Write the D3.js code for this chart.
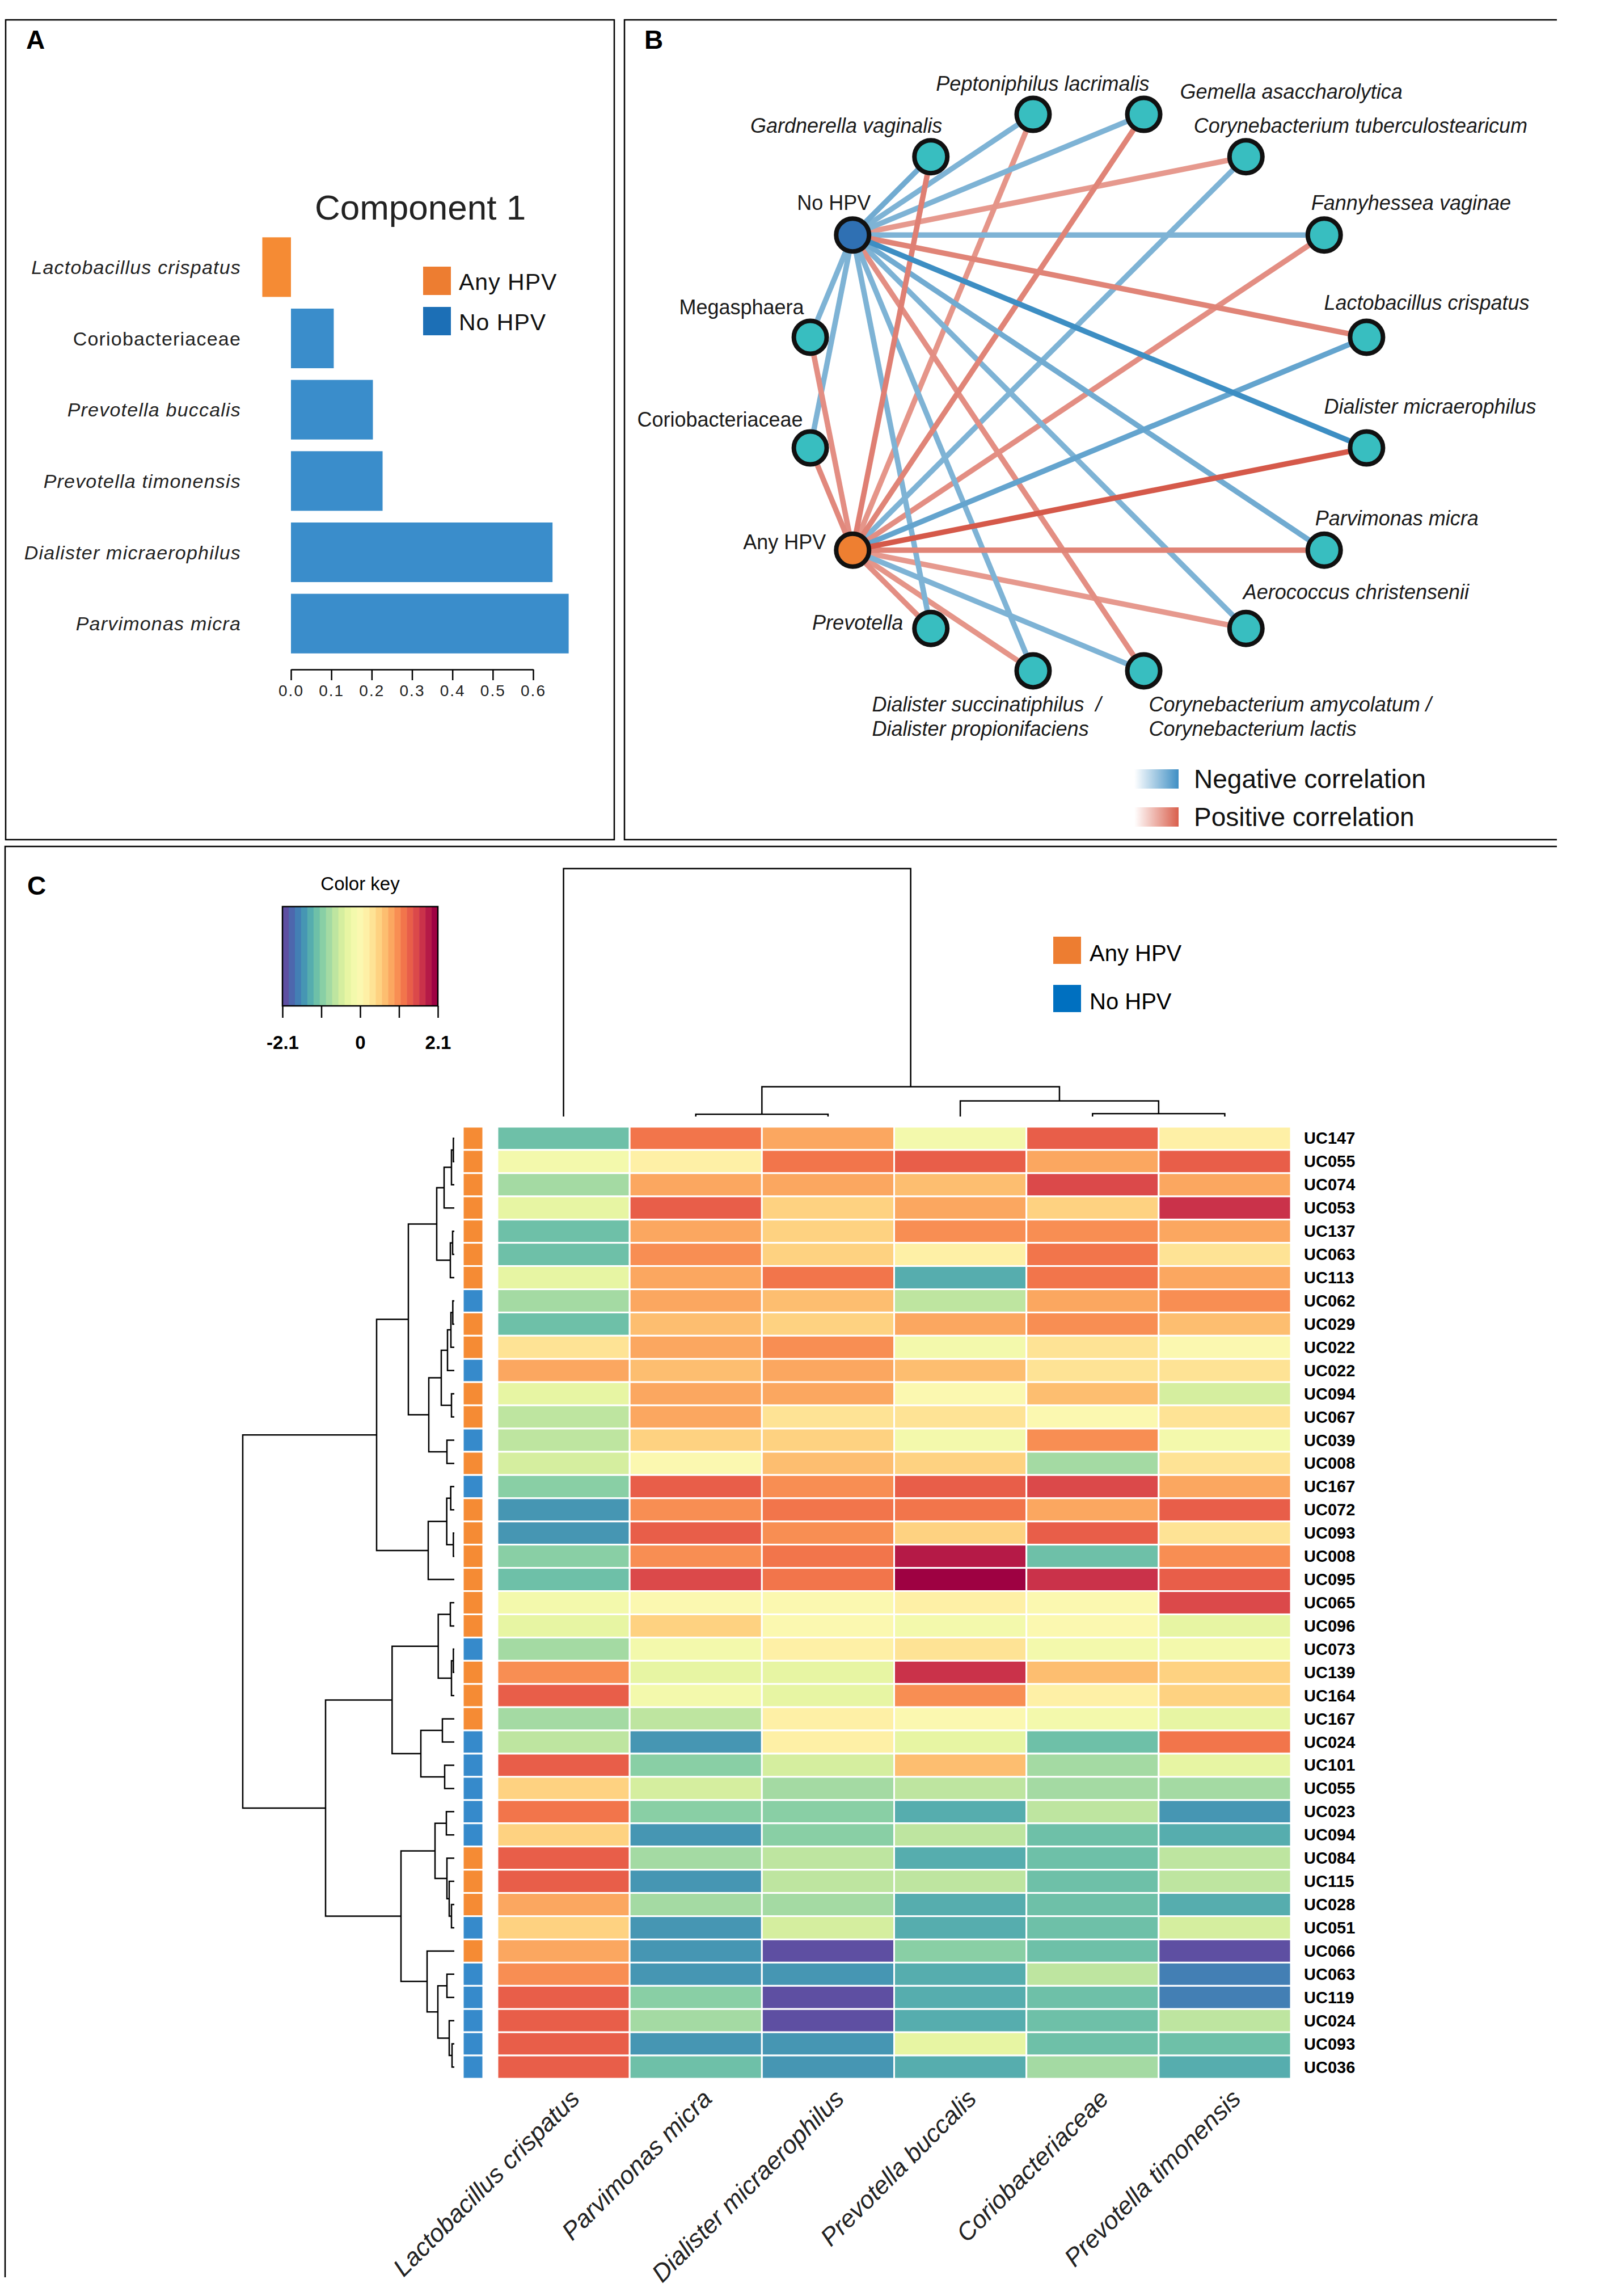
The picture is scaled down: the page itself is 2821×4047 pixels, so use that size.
<!DOCTYPE html>
<html>
<head>
<meta charset="utf-8">
<script src="https://cdn.jsdelivr.net/npm/d3@7"></script>
<style>
  body { margin: 0; background: #fff; }
  text { font-family: "Liberation Sans", Arial, sans-serif; }
</style>
</head>
<body>
<script>
// ---------- panel A : PLS-DA loadings, component 1 ----------
const plsSpecies = ["Lactobacillus crispatus", "Coriobacteriaceae", "Prevotella buccalis",
  "Prevotella timonensis", "Dialister micraerophilus", "Parvimonas micra"];
const plsLoading = [-0.071, 0.106, 0.203, 0.227, 0.648, 0.688];
const plsGroup = ["Any HPV", "No HPV", "No HPV", "No HPV", "No HPV", "No HPV"];
const plsTicks = [0, 0.1, 0.2, 0.3, 0.4, 0.5, 0.6];

// ---------- panel B : correlation network ----------
// species in clockwise order around the circle, hubs inserted below
const netSpecies = ["Gemella asaccharolytica", "Corynebacterium tuberculostearicum", "Fannyhessea vaginae",
  "Lactobacillus crispatus", "Dialister micraerophilus", "Parvimonas micra", "Aerococcus christensenii",
  "Corynebacterium amycolatum /\nCorynebacterium lactis", "Dialister succinatiphilus  /\nDialister propionifaciens",
  "Prevotella", "Coriobacteriaceae", "Megasphaera", "Gardnerella vaginalis", "Peptoniphilus lacrimalis"];
const corrNoHpv  = [-0.45, 0.40, -0.45, 0.50, -0.70, -0.50, -0.45, 0.45, -0.45, -0.45, -0.45, -0.45, -0.50, -0.45];
const corrAnyHpv = [0.50, -0.45, 0.45, -0.55, 0.70, 0.50, 0.40, -0.45, 0.42, 0.45, 0.48, 0.45, 0.52, 0.42];
const netOrder = ["Gemella asaccharolytica", "Corynebacterium tuberculostearicum", "Fannyhessea vaginae",
  "Lactobacillus crispatus", "Dialister micraerophilus", "Parvimonas micra", "Aerococcus christensenii",
  "Corynebacterium amycolatum /\nCorynebacterium lactis", "Dialister succinatiphilus  /\nDialister propionifaciens",
  "Prevotella", "Any HPV", "Coriobacteriaceae", "Megasphaera", "No HPV", "Gardnerella vaginalis",
  "Peptoniphilus lacrimalis"];

// ---------- panel C : heatmap ----------
const hmTaxa = ["Lactobacillus crispatus", "Parvimonas micra", "Dialister micraerophilus",
  "Prevotella buccalis", "Coriobacteriaceae", "Prevotella timonensis"];
const hmSamples = ["UC147", "UC055", "UC074", "UC053", "UC137", "UC063", "UC113", "UC062", "UC029", "UC022",
  "UC022", "UC094", "UC067", "UC039", "UC008", "UC167", "UC072", "UC093", "UC008", "UC095", "UC065",
  "UC096", "UC073", "UC139", "UC164", "UC167", "UC024", "UC101", "UC055", "UC023", "UC094", "UC084",
  "UC115", "UC028", "UC051", "UC066", "UC063", "UC119", "UC024", "UC093", "UC036"];
const hmGroup = ["A", "A", "A", "A", "A", "A", "A", "N", "A", "A", "N", "A", "A", "N", "A", "N", "A", "A", "A",
  "A", "A", "A", "N", "A", "A", "A", "N", "N", "N", "N", "N", "A", "A", "A", "N", "A", "N", "N", "N", "N", "N"];
const hmValues = [
  [-1.2, 1.2, 0.8, -0.2, 1.3, 0.2],
  [-0.2, 0.2, 1.2, 1.3, 0.8, 1.3],
  [-0.8, 0.8, 0.8, 0.7, 1.5, 0.8],
  [-0.3, 1.3, 0.5, 0.8, 0.5, 1.7],
  [-1.2, 0.8, 0.5, 1.0, 1.0, 0.8],
  [-1.2, 1.0, 0.5, 0.2, 1.2, 0.3],
  [-0.3, 0.8, 1.2, -1.3, 1.2, 0.8],
  [-0.8, 0.8, 0.7, -0.7, 0.8, 1.0],
  [-1.2, 0.7, 0.5, 0.8, 1.0, 0.7],
  [0.3, 0.8, 1.0, -0.2, 0.3, 0.0],
  [0.8, 0.7, 0.8, 0.7, 0.3, 0.3],
  [-0.3, 0.8, 0.8, 0.0, 0.7, -0.5],
  [-0.7, 0.8, 0.3, 0.3, 0.0, 0.3],
  [-0.7, 0.5, 0.5, -0.2, 1.0, -0.2],
  [-0.5, 0.0, 0.7, 0.5, -0.8, 0.3],
  [-1.0, 1.3, 1.0, 1.3, 1.5, 0.8],
  [-1.5, 1.0, 1.2, 1.2, 0.8, 1.3],
  [-1.5, 1.3, 1.0, 0.5, 1.3, 0.3],
  [-1.0, 1.0, 1.2, 1.9, -1.2, 1.0],
  [-1.2, 1.5, 1.2, 2.0, 1.7, 1.3],
  [-0.2, 0.0, 0.0, 0.2, 0.0, 1.5],
  [-0.3, 0.5, 0.0, -0.2, 0.0, -0.3],
  [-0.8, -0.2, 0.2, 0.3, -0.2, -0.2],
  [1.0, -0.3, -0.3, 1.7, 0.7, 0.5],
  [1.3, -0.2, -0.3, 1.0, 0.2, 0.5],
  [-0.8, -0.7, 0.2, 0.0, -0.2, -0.3],
  [-0.7, -1.5, 0.2, -0.3, -1.2, 1.2],
  [1.3, -1.0, -0.5, 0.7, -0.8, -0.3],
  [0.5, -0.5, -0.8, -0.7, -0.8, -0.8],
  [1.2, -1.0, -1.0, -1.3, -0.7, -1.5],
  [0.5, -1.5, -1.0, -0.7, -1.2, -1.3],
  [1.3, -0.8, -0.7, -1.3, -1.2, -0.7],
  [1.3, -1.5, -0.7, -0.7, -1.2, -0.7],
  [0.8, -0.8, -0.8, -1.3, -1.2, -1.3],
  [0.5, -1.5, -0.5, -1.3, -1.2, -0.5],
  [0.8, -1.5, -2.0, -1.0, -1.2, -2.0],
  [1.0, -1.5, -1.5, -1.3, -0.7, -1.7],
  [1.3, -1.0, -2.0, -1.3, -1.2, -1.7],
  [1.3, -0.8, -2.0, -1.3, -1.2, -0.7],
  [1.3, -1.5, -1.5, -0.3, -1.2, -1.2],
  [1.3, -1.2, -1.5, -1.3, -0.8, -1.3]
];
// dendrograms as [mergeHeight, left, right]; leaves are row / column indices
const rowTree = [11.19,
  [4.11,
    [2.43,
      [0.93, [0.54, [0.15, [0.05, 0, 1], 2], 3], [0.21, [0.09, 4, 5], 6]],
      [1.35, [0.69, [0.36, [0.18, [0.08, 7, 8], 9], 10], [0.15, 11, 12]], [0.39, 13, 14]]],
    [1.38, [0.40, [0.19, 15, 16], [0.05, 17, 18]], 19]],
  [6.81,
    [3.29,
      [0.85, [0.21, 20, 21], [0.15, [0.05, 22, 23], 24]],
      [1.77, [0.63, 25, 26], [0.51, 27, 28]]],
    [2.82,
      [1.02, [0.42, 29, 30], [0.39, 31, [0.27, 32, [0.15, 33, 34]]]],
      [1.44, 35, [0.87, [0.39, 36, 37], [0.27, 38, [0.12, 39, 40]]]]]]];
const colTree = [13.13, 0, [1.58, [0.12, 1, 2], [0.83, 3, [0.15, 4, 5]]]];
const keyTicks = [-2.1, -1.05, 0, 1.05, 2.1];

// ---------- drawing ----------
const W = 2821, H = 4047;
const svg = d3.select("body").append("svg")
  .attr("width", W).attr("height", H)
  .style("display", "block");
svg.append("rect").attr("width", W).attr("height", H).attr("fill", "#fff");

const orange = "#ED7D31", blueLeg = "#1C6FB6";
const barOrange = "#F58B34", barBlue = "#3A8DCB";
const uprightNames = new Set(["Coriobacteriaceae", "Megasphaera", "No HPV", "Any HPV"]);

// panel frames
const frame = svg.append("g").attr("fill", "none").attr("stroke", "#000").attr("stroke-width", 2.5);
frame.append("rect").attr("x", 10).attr("y", 35).attr("width", 1073).attr("height", 1445);
frame.append("path").attr("d", "M2745,35 H1101 V1480 H2745");
frame.append("path").attr("d", "M2745,1492 H9 V4014");

svg.selectAll("text.panel").data([["A", 46, 86], ["B", 1136, 86], ["C", 48, 1577]])
  .join("text").attr("class", "panel")
  .attr("x", d => d[1]).attr("y", d => d[2])
  .attr("font-size", 46).attr("font-weight", "bold").text(d => d[0]);

// ===== Panel A =====
const gA = svg.append("g");
const xA = d3.scaleLinear().domain([0, 0.6]).range([513, 940]);
const yA = d3.scaleBand().domain(plsSpecies).range([408, 1162])
  .paddingInner(0.164).paddingOuter(0.082);

gA.append("text").attr("x", 741).attr("y", 387).attr("text-anchor", "middle")
  .attr("font-size", 62).attr("fill", "#222").text("Component 1");

gA.selectAll("rect.bar").data(plsSpecies).join("rect").attr("class", "bar")
  .attr("x", (d, i) => xA(Math.min(0, plsLoading[i])))
  .attr("width", (d, i) => Math.abs(xA(plsLoading[i]) - xA(0)))
  .attr("y", d => yA(d)).attr("height", yA.bandwidth())
  .attr("fill", (d, i) => plsGroup[i] === "Any HPV" ? barOrange : barBlue);

gA.selectAll("text.lab").data(plsSpecies).join("text").attr("class", "lab")
  .attr("x", 425).attr("y", d => yA(d) + yA.bandwidth() / 2 + 12)
  .attr("text-anchor", "end").attr("font-size", 34).attr("letter-spacing", 1.2)
  .attr("fill", "#222")
  .attr("font-style", d => uprightNames.has(d) ? "normal" : "italic")
  .text(d => d);

const axA = gA.append("g").attr("transform", "translate(0,1180)")
  .call(d3.axisBottom(xA).tickValues(plsTicks).tickFormat(d3.format(".1f"))
    .tickSize(19).tickPadding(8).tickSizeOuter(0));
axA.select(".domain").attr("stroke-width", 2.5);
axA.selectAll(".tick line").attr("stroke-width", 2.5);
axA.selectAll("text").attr("font-size", 28).attr("letter-spacing", 2).attr("fill", "#222")
  .attr("font-family", "Liberation Sans, Arial, sans-serif");

const legA = gA.selectAll("g.leg").data(["Any HPV", "No HPV"]).join("g").attr("class", "leg")
  .attr("transform", (d, i) => `translate(746,${470 + i * 71})`);
legA.append("rect").attr("width", 49).attr("height", 50)
  .attr("fill", d => d === "Any HPV" ? orange : blueLeg);
legA.append("text").attr("x", 63).attr("y", 41).attr("font-size", 41)
  .attr("letter-spacing", 1).attr("fill", "#111").text(d => d);

// ===== Panel B =====
const gB = svg.append("g");
const cx = 1919, cy = 692, R = 500;
const angle = d3.scaleLinear().domain([0, netOrder.length]).range([-78.75, 281.25]);
const pos = {};
netOrder.forEach((n, i) => {
  const a = angle(i) * Math.PI / 180;
  pos[n] = [cx + R * Math.cos(a), cy + R * Math.sin(a)];
});

const edges = [];
netSpecies.forEach((s, i) => {
  edges.push({a: "No HPV", b: s, r: corrNoHpv[i]});
  edges.push({a: "Any HPV", b: s, r: corrAnyHpv[i]});
});
edges.sort((p, q) => Math.abs(p.r) - Math.abs(q.r));
const negCol = d3.scaleLinear().domain([0.4, 0.7]).range(["#8BBAD8", "#3D8EC3"]).clamp(true);
const posCol = d3.scaleLinear().domain([0.4, 0.7]).range(["#E6998E", "#D5594A"]).clamp(true);

gB.selectAll("line.edge").data(edges).join("line").attr("class", "edge")
  .attr("x1", d => pos[d.a][0]).attr("y1", d => pos[d.a][1])
  .attr("x2", d => pos[d.b][0]).attr("y2", d => pos[d.b][1])
  .attr("stroke", d => d.r < 0 ? negCol(-d.r) : posCol(d.r))
  .attr("stroke-width", 9.5);

gB.selectAll("circle.node").data(netOrder).join("circle").attr("class", "node")
  .attr("cx", d => pos[d][0]).attr("cy", d => pos[d][1]).attr("r", 29)
  .attr("fill", d => d === "No HPV" ? "#2F70B3" : d === "Any HPV" ? "#EE7F31" : "#38BEC0")
  .attr("stroke", "#111").attr("stroke-width", 8);

// label placement relative to each node: [dx, dy, anchor]
const labelPlace = {
  "Gemella asaccharolytica": [64, -28, "start"],
  "Corynebacterium tuberculostearicum": [-92, -42, "start"],
  "Fannyhessea vaginae": [-23, -44, "start"],
  "Lactobacillus crispatus": [-75, -48, "start"],
  "Dialister micraerophilus": [-75, -61, "start"],
  "Parvimonas micra": [-16, -44, "start"],
  "Aerococcus christensenii": [-5, -52, "start"],
  "Corynebacterium amycolatum /\nCorynebacterium lactis": [9, 72, "start"],
  "Dialister succinatiphilus  /\nDialister propionifaciens": [-284, 72, "start"],
  "Prevotella": [-49, 2, "end"],
  "Any HPV": [-47, -2, "end"],
  "Coriobacteriaceae": [-13, -38, "end"],
  "Megasphaera": [-11, -40, "end"],
  "No HPV": [-33, -44, "middle"],
  "Gardnerella vaginalis": [20, -42, "end"],
  "Peptoniphilus lacrimalis": [17, -42, "middle"]
};
const labB = gB.selectAll("text.nlab").data(netOrder).join("text").attr("class", "nlab")
  .attr("x", d => pos[d][0] + labelPlace[d][0])
  .attr("y", d => pos[d][1] + labelPlace[d][1])
  .attr("text-anchor", d => labelPlace[d][2])
  .attr("font-size", 36).attr("fill", "#1a1a1a")
  .attr("font-style", d => uprightNames.has(d) ? "normal" : "italic")
  .style("white-space", "pre");
labB.each(function(d) {
  const t = d3.select(this);
  d.split("\n").forEach((line, k) => {
    t.append("tspan").attr("x", pos[d][0] + labelPlace[d][0]).attr("dy", k ? 43 : 0).text(line);
  });
});

const defs = svg.append("defs");
[["gNeg", "#3F8FC4"], ["gPos", "#D95F4C"]].forEach(([id, c]) => {
  const g = defs.append("linearGradient").attr("id", id);
  g.append("stop").attr("offset", 0).attr("stop-color", "#fff");
  g.append("stop").attr("offset", 1).attr("stop-color", c);
});
const legB = gB.selectAll("g.legb").data(["Negative correlation", "Positive correlation"]).join("g")
  .attr("class", "legb").attr("transform", (d, i) => `translate(2000,${1356 + i * 67})`);
legB.append("rect").attr("width", 78).attr("height", 34)
  .attr("fill", (d, i) => i ? "url(#gPos)" : "url(#gNeg)");
legB.append("text").attr("x", 105).attr("y", 33).attr("font-size", 46).attr("fill", "#111").text(d => d);

// ===== Panel C =====
const gC = svg.append("g");
const colorBins = d3.quantize(t => d3.interpolateSpectral(1 - t), 25);
const color = d3.scaleQuantize().domain([-2.1, 2.1]).range(colorBins);
const xC = d3.scaleBand().domain(d3.range(hmTaxa.length)).range([877, 2276]);
const yC = d3.scaleBand().domain(d3.range(hmSamples.length)).range([1986, 3664]);

const cells = [];
hmValues.forEach((row, i) => row.forEach((v, j) => cells.push({i, j, v})));
gC.selectAll("rect.cell").data(cells).join("rect").attr("class", "cell")
  .attr("x", d => xC(d.j)).attr("y", d => yC(d.i))
  .attr("width", xC.bandwidth()).attr("height", yC.bandwidth())
  .attr("fill", d => color(d.v)).attr("stroke", "#fff").attr("stroke-width", 3);

gC.selectAll("rect.side").data(hmGroup).join("rect").attr("class", "side")
  .attr("x", 816).attr("width", 36)
  .attr("y", (d, i) => yC(i)).attr("height", yC.bandwidth())
  .attr("fill", d => d === "A" ? barOrange : "#368ACB").attr("stroke", "#fff").attr("stroke-width", 3);

gC.selectAll("text.rlab").data(hmSamples).join("text").attr("class", "rlab")
  .attr("x", 2299).attr("y", (d, i) => yC(i) + yC.bandwidth() / 2 + 10)
  .attr("font-size", 29).attr("font-weight", "bold").text(d => d);

gC.selectAll("text.clab").data(hmTaxa).join("text").attr("class", "clab")
  .attr("transform", (d, j) => `translate(${xC(j) + xC.bandwidth() / 2 + 31},3702) rotate(-45)`)
  .attr("text-anchor", "end").attr("font-size", 44).attr("font-style", "italic")
  .attr("fill", "#222").text(d => d);

// dendrograms
function layout(node, leafPos) {
  if (typeof node === "number") return {p: leafPos(node), h: 0};
  const a = layout(node[1], leafPos), b = layout(node[2], leafPos);
  return {p: (a.p + b.p) / 2, h: node[0], kids: [a, b]};
}
function collect(n, out) {
  if (!n.kids) return out;
  out.push(n);
  n.kids.forEach(k => collect(k, out));
  return out;
}
const rowH = d3.scaleLinear().domain([0, rowTree[0]]).range([801, 428]);
const rowRoot = layout(rowTree, i => yC(i) + yC.bandwidth() / 2);
gC.selectAll("path.rden").data(collect(rowRoot, [])).join("path").attr("class", "rden")
  .attr("fill", "none").attr("stroke", "#000").attr("stroke-width", 2.5)
  .attr("d", n => `M${rowH(n.kids[0].h)},${n.kids[0].p}H${rowH(n.h)}V${n.kids[1].p}H${rowH(n.kids[1].h)}`);

const colH = d3.scaleLinear().domain([0, colTree[0]]).range([1968, 1531]);
const colRoot = layout(colTree, j => xC(j) + xC.bandwidth() / 2);
gC.selectAll("path.cden").data(collect(colRoot, [])).join("path").attr("class", "cden")
  .attr("fill", "none").attr("stroke", "#000").attr("stroke-width", 2.5)
  .attr("d", n => `M${n.kids[0].p},${colH(n.kids[0].h)}V${colH(n.h)}H${n.kids[1].p}V${colH(n.kids[1].h)}`);

// color key
const xKey = d3.scaleLinear().domain([-2.1, 2.1]).range([498, 772]);
const keyEdges = [-2.1, ...color.thresholds(), 2.1];
gC.selectAll("rect.key").data(colorBins).join("rect").attr("class", "key")
  .attr("x", (c, k) => xKey(keyEdges[k])).attr("width", (c, k) => xKey(keyEdges[k + 1]) - xKey(keyEdges[k]) + 0.5)
  .attr("y", 1598).attr("height", 175).attr("fill", c => c);
gC.append("rect").attr("x", 498).attr("y", 1598).attr("width", 274).attr("height", 175)
  .attr("fill", "none").attr("stroke", "#000").attr("stroke-width", 2.5);
const axKey = gC.append("g").attr("transform", "translate(0,1773)")
  .call(d3.axisBottom(xKey).tickValues(keyTicks)
    .tickFormat(v => Math.abs(v) === 1.05 ? "" : (v === 0 ? "0" : String(v)))
    .tickSize(21).tickPadding(32));
axKey.select(".domain").remove();
axKey.selectAll(".tick line").attr("stroke-width", 2.5);
axKey.selectAll("text").attr("font-size", 33).attr("font-weight", "bold")
  .attr("font-family", "Liberation Sans, Arial, sans-serif").attr("fill", "#000");
gC.append("text").attr("x", 635).attr("y", 1569).attr("text-anchor", "middle")
  .attr("font-size", 33).text("Color key");

const legC = gC.selectAll("g.legc").data(["Any HPV", "No HPV"]).join("g").attr("class", "legc")
  .attr("transform", (d, i) => `translate(1857,${1651 + i * 85})`);
legC.append("rect").attr("width", 49).attr("height", 48)
  .attr("fill", d => d === "Any HPV" ? orange : "#0070C0");
legC.append("text").attr("x", 64).attr("y", 43).attr("font-size", 40).text(d => d);
</script>
</body>
</html>
